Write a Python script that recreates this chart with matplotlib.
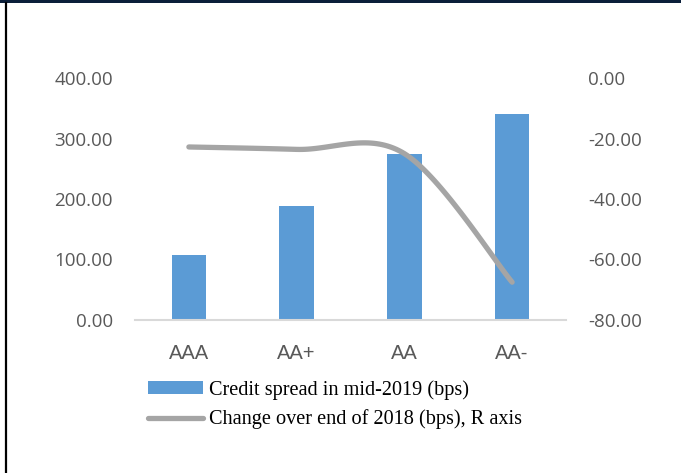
import numpy as np
import matplotlib
matplotlib.use("Agg")
import matplotlib.pyplot as plt
from matplotlib.lines import Line2D
from matplotlib.patches import Patch, Rectangle

# ratings and their data
ratings = ["AAA", "AA+", "AA", "AA-"]
spread_mid2019 = [107, 188, 274, 341]          # bps, left axis
change_vs_2018 = [-22.8, -23.6, -25.0, -67.5]  # bps, right axis

bar_color = "#5B9BD5"
line_color = "#A5A5A5"
tick_color = "#595959"


def smooth_curve(xs, ys, n=40):
    # Catmull-Rom style cubic bezier through every point (spreadsheet "smoothed line")
    pts = np.column_stack([xs, ys]).astype(float)
    out = []
    for i in range(len(pts) - 1):
        p0 = pts[i - 1] if i > 0 else pts[i]
        p1 = pts[i]
        p2 = pts[i + 1]
        p3 = pts[i + 2] if i + 2 < len(pts) else pts[i + 1]
        c1 = p1 + (p2 - p0) / 6.0
        c2 = p2 - (p3 - p1) / 6.0
        t = np.linspace(0, 1, n)[:, None]
        seg = ((1 - t) ** 3) * p1 + 3 * ((1 - t) ** 2) * t * c1 + 3 * (1 - t) * t ** 2 * c2 + t ** 3 * p2
        out.append(seg if i == 0 else seg[1:])
    out = np.vstack(out)
    return out[:, 0], out[:, 1]


fig = plt.figure(figsize=(6.81, 4.73), dpi=100)
ax = fig.add_axes([135 / 681, 1 - 320 / 473, 431 / 681, 242 / 473])

x = np.arange(len(ratings))
bars = ax.bar(x, spread_mid2019, width=0.32, color=bar_color, zorder=2)
ax.set_xlim(-0.5, len(ratings) - 0.5)
ax.set_ylim(0, 400)
ax.set_yticks([0, 100, 200, 300, 400])
ax.set_yticklabels([f"{v:.2f}" for v in [0, 100, 200, 300, 400]],
                   fontfamily="Open Sans", fontsize=13.5, color=tick_color)
ax.set_xticks(x)
ax.set_xticklabels(ratings, fontfamily="Liberation Sans", fontsize=14.5, color=tick_color)
ax.tick_params(axis="both", length=0)
ax.tick_params(axis="y", pad=16)
ax.tick_params(axis="x", pad=17)
for side in ["top", "right", "left"]:
    ax.spines[side].set_visible(False)
ax.spines["bottom"].set_color("#D9D9D9")
ax.spines["bottom"].set_linewidth(1.5)

ax2 = ax.twinx()
sx, sy = smooth_curve(x, change_vs_2018)
ax2.plot(sx, sy, color=line_color, lw=3.8, solid_capstyle="round", zorder=3)
ax2.set_ylim(-80, 0)
ax2.set_yticks([-80, -60, -40, -20, 0])
ax2.set_yticklabels([f"{v:.2f}" for v in [-80, -60, -40, -20, 0]],
                    fontfamily="Open Sans", fontsize=13.5, color=tick_color)
ax2.tick_params(axis="y", length=0, pad=16)
for side in ["top", "right", "left", "bottom"]:
    ax2.spines[side].set_visible(False)

handles = [Patch(facecolor=bar_color, edgecolor="none"),
           Line2D([], [], color=line_color, lw=3.8, solid_capstyle="round")]
labels = ["Credit spread in mid-2019 (bps)", "Change over end of 2018 (bps), R axis"]
fig.legend(handles, labels, loc="upper left", bbox_to_anchor=(148 / 681, 1 - 380 / 473),
           frameon=False, borderpad=0, borderaxespad=0, handlelength=2.7,
           handleheight=0.62, handletextpad=0.32, labelspacing=0.48,
           prop={"family": "Liberation Serif", "size": 14.6})

# frame lines along the top and left edge
fig.add_artist(Rectangle((0, 1 - 3.5 / 473), 1, 3.5 / 473, transform=fig.transFigure,
                         facecolor="#0B1F3A", edgecolor="none"))
fig.add_artist(Line2D([5.8 / 681, 5.8 / 681], [0, 1 - 3 / 473], transform=fig.transFigure,
                      color="black", lw=1.6))

fig.savefig("out.png", dpi=100)
